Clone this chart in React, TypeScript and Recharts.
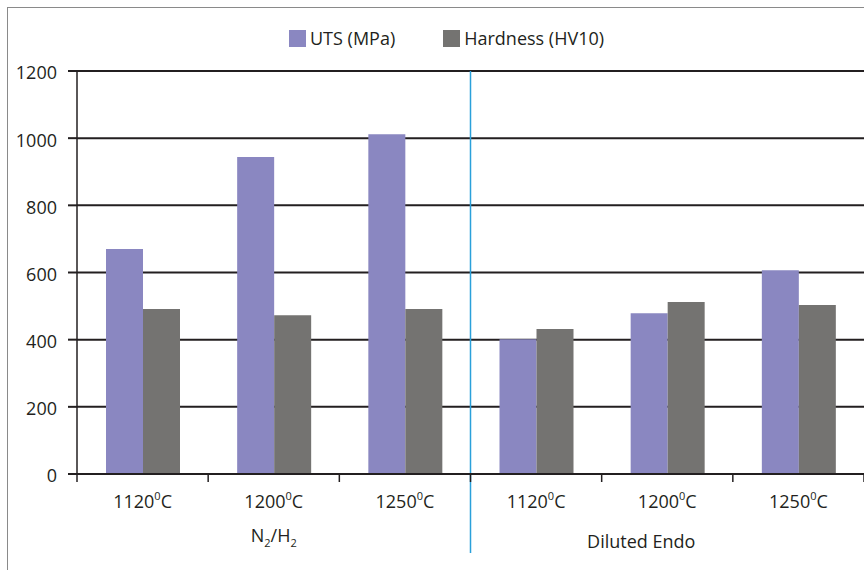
import React from 'react';
import { BarChart, Bar, XAxis, YAxis, CartesianGrid, Legend, ReferenceLine } from 'recharts';

// ---- data ----
const categoryIds = ['N1120', 'N1200', 'N1250', 'E1120', 'E1200', 'E1250'];
const tempLabels = ['1120', '1200', '1250', '1120', '1200', '1250'];
const utsValues = [670, 944, 1012, 401, 479, 607];
const hardnessValues = [491, 473, 491, 432, 512, 503];
const groupLabels = ['N_2/H_2', 'Diluted Endo'];
const groupLabelAt = [1, 4]; // category index carrying the group label
const groupStartId = 'E1120'; // first category of the second group
const yTicks = [0, 200, 400, 600, 800, 1000, 1200];
const seriesNames = ['UTS (MPa)', 'Hardness (HV10)'];

const data = categoryIds.map((id, i) => ({
  id,
  uts: utsValues[i],
  hardness: hardnessValues[i],
}));

// ---- layout / style ----
const CHART_W = 868;
const MARGIN = { top: 71, right: 4, left: 0, bottom: 0 };
const Y_AXIS_W = 77;
const PLOT_W = CHART_W - MARGIN.left - MARGIN.right - Y_AXIS_W;
const BAND = PLOT_W / categoryIds.length;

const FONT = '"Open Sans", sans-serif';
const INK = '#231f20';
const UTS_COLOR = '#8a87c1';
const HARD_COLOR = '#747371';
const BLUE = '#2aa0da';
const groupDx = [0, -26];
const groupDy = [68, 74];

function renderSubscripted(label: string) {
  const parts = label.split(/_(\d)/);
  const out: React.ReactNode[] = [];
  let shifted = false;
  parts.forEach((p, i) => {
    if (p === '') return;
    if (i % 2 === 1) {
      out.push(
        <tspan key={i} dy={5} fontSize={11}>
          {p}
        </tspan>
      );
      shifted = true;
    } else {
      out.push(
        <tspan key={i} dy={shifted ? -5 : 0}>
          {p}
        </tspan>
      );
      shifted = false;
    }
  });
  return out;
}

const XTick = (props: any) => {
  const { x, y, index } = props;
  const g = groupLabelAt.indexOf(index);
  const isLast = index === categoryIds.length - 1;
  return (
    <g>
      <line x1={x - BAND / 2} x2={x - BAND / 2} y1={y} y2={y + 8} stroke={INK} strokeWidth={1.5} />
      {isLast && (
        <line x1={x + BAND / 2} x2={x + BAND / 2} y1={y} y2={y + 8} stroke={INK} strokeWidth={1.5} />
      )}
      <text x={x} y={y + 34} textAnchor="middle" fontSize={18} fill={INK} fontFamily={FONT}>
        <tspan>{tempLabels[index]}</tspan>
        <tspan dy={-8} fontSize={11}>0</tspan>
        <tspan dy={8}>C</tspan>
      </text>
      {g >= 0 && (
        <text
          x={x + groupDx[g]}
          y={y + groupDy[g]}
          textAnchor="middle"
          fontSize={18}
          fill={INK}
          fontFamily={FONT}
        >
          {renderSubscripted(groupLabels[g])}
        </text>
      )}
    </g>
  );
};

const LegendContent = () => {
  const colors = [UTS_COLOR, HARD_COLOR];
  return (
    <div style={{ display: 'flex', alignItems: 'center', paddingLeft: 289, fontFamily: FONT }}>
      {seriesNames.map((n, i) => (
        <div key={n} style={{ display: 'flex', alignItems: 'center', marginRight: 48 }}>
          <div style={{ width: 17, height: 17, background: colors[i] }} />
          <span style={{ marginLeft: 4, fontSize: 18, color: INK, lineHeight: '20px' }}>{n}</span>
        </div>
      ))}
    </div>
  );
};

export default function App() {
  return (
    <div
      style={{
        position: 'absolute',
        left: 0,
        top: 0,
        width: 864,
        height: 570,
        overflow: 'hidden',
        background: '#fff',
        fontFamily: FONT,
      }}
    >
      <div
        style={{
          position: 'absolute',
          left: 7,
          top: 7,
          width: 900,
          height: 600,
          border: '1.5px solid #8a8a8a',
        }}
      />
      <div style={{ position: 'absolute', left: 0, top: 0 }}>
        <BarChart
          width={CHART_W}
          height={570}
          data={data}
          margin={MARGIN}
          barGap={0}
          barSize={37}
        >
          <CartesianGrid horizontal vertical={false} stroke={INK} strokeWidth={2} />
          <XAxis
            dataKey="id"
            xAxisId="cat"
            height={96}
            axisLine={{ stroke: INK, strokeWidth: 2 }}
            tickLine={false}
            tickSize={0}
            tickMargin={0}
            interval={0}
            tick={<XTick />}
          />
          <YAxis
            width={Y_AXIS_W}
            domain={[0, 1200]}
            ticks={yTicks}
            interval={0}
            tickSize={9}
            tickMargin={11}
            axisLine={{ stroke: INK, strokeWidth: 1.5 }}
            tickLine={{ stroke: INK, strokeWidth: 2 }}
            tick={{ fontSize: 18, fill: INK, fontFamily: FONT, dy: 2 }}
          />
          <Legend
            verticalAlign="middle"
            align="center"
            layout="horizontal"
            wrapperStyle={{ top: 28, left: 0, width: 864 }}
            content={<LegendContent />}
          />
          <Bar dataKey="uts" xAxisId="cat" name={seriesNames[0]} fill={UTS_COLOR} isAnimationActive={false} />
          <Bar dataKey="hardness" xAxisId="cat" name={seriesNames[1]} fill={HARD_COLOR} isAnimationActive={false} />
          <ReferenceLine
            xAxisId="cat"
            position="start"
            segment={[
              { x: groupStartId, y: 1200 },
              { x: groupStartId, y: -235 },
            ]}
            ifOverflow="visible"
            stroke={BLUE}
            strokeWidth={1.5}
          />
        </BarChart>
      </div>
    </div>
  );
}
